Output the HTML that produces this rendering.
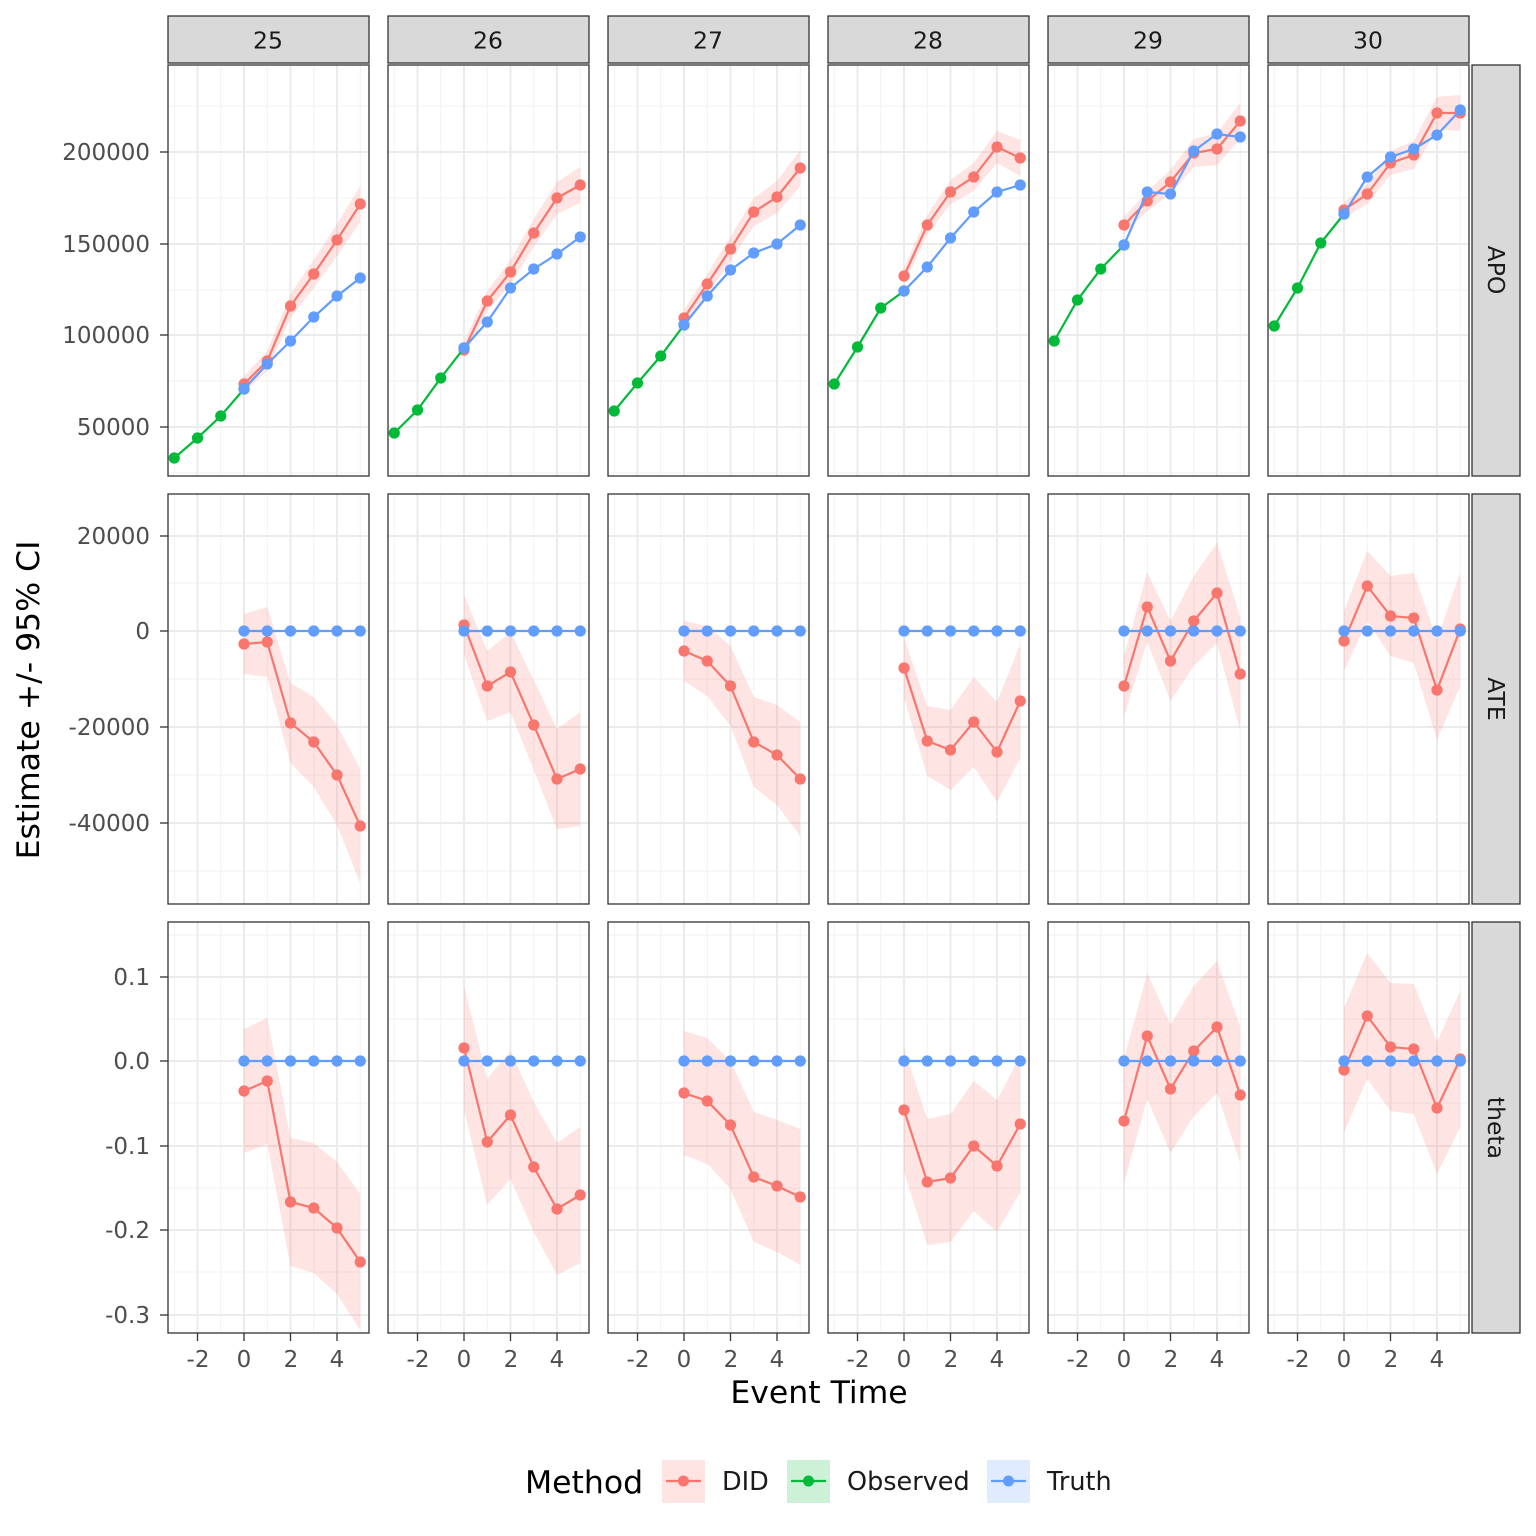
<!DOCTYPE html>
<html><head><meta charset="utf-8"><style>
html,body{margin:0;padding:0;background:#fff;}
svg{display:block;font-family:"DejaVu Sans","Liberation Sans",sans-serif;}
.t{font-size:23px;fill:#4d4d4d;}
.s{font-size:23.5px;fill:#1a1a1a;}
</style></head><body>
<svg id="c" width="1536" height="1536" viewBox="0 0 1536 1536" xmlns="http://www.w3.org/2000/svg">
<rect width="1536" height="1536" fill="#fff"/>
<g id="g"></g>
<g class="s" text-anchor="middle">
<text x="268" y="48.5">25</text><text x="488" y="48.5">26</text><text x="708" y="48.5">27</text>
<text x="928" y="48.5">28</text><text x="1148" y="48.5">29</text><text x="1368" y="48.5">30</text>
</g>
<g class="s" text-anchor="middle">
<text transform="translate(1488,270) rotate(90)">APO</text>
<text transform="translate(1488,699) rotate(90)">ATE</text>
<text transform="translate(1488,1128) rotate(90)">theta</text>
</g>
<g class="t" text-anchor="end">
<text x="150" y="160">200000</text><text x="150" y="252">150000</text><text x="150" y="343">100000</text><text x="150" y="435">50000</text>
<text x="150" y="544">20000</text><text x="150" y="639">0</text><text x="150" y="735">-20000</text><text x="150" y="831">-40000</text>
<text x="150" y="985">0.1</text><text x="150" y="1069">0.0</text><text x="150" y="1154">-0.1</text><text x="150" y="1238">-0.2</text><text x="150" y="1323">-0.3</text>
</g>
<g class="t" text-anchor="middle">
<text x="198" y="1367">-2</text><text x="244" y="1367">0</text><text x="291" y="1367">2</text><text x="337" y="1367">4</text>
<text x="418" y="1367">-2</text><text x="464" y="1367">0</text><text x="511" y="1367">2</text><text x="557" y="1367">4</text>
<text x="638" y="1367">-2</text><text x="684" y="1367">0</text><text x="731" y="1367">2</text><text x="777" y="1367">4</text>
<text x="858" y="1367">-2</text><text x="904" y="1367">0</text><text x="951" y="1367">2</text><text x="997" y="1367">4</text>
<text x="1078" y="1367">-2</text><text x="1124" y="1367">0</text><text x="1171" y="1367">2</text><text x="1217" y="1367">4</text>
<text x="1298" y="1367">-2</text><text x="1344" y="1367">0</text><text x="1391" y="1367">2</text><text x="1437" y="1367">4</text>
</g>
<text x="819" y="1403" text-anchor="middle" font-size="31.5" fill="#000">Event Time</text>
<text transform="translate(39,700) rotate(-90)" text-anchor="middle" font-size="31.5" fill="#000">Estimate +/- 95% CI</text>
<text x="525" y="1493" font-size="31.5" fill="#000">Method</text>
<rect x="662" y="1460" width="43" height="43" fill="#fde4e2"/>
<line x1="666" y1="1481" x2="701" y2="1481" stroke="#F8766D" stroke-width="2.2"/><circle cx="683.5" cy="1481" r="5.5" fill="#F8766D"/>
<text x="722" y="1490" font-size="25.5" fill="#1a1a1a">DID</text>
<rect x="787" y="1460" width="43" height="43" fill="#ccf1d7"/>
<line x1="791" y1="1481" x2="826" y2="1481" stroke="#00BA38" stroke-width="2.2"/><circle cx="808.5" cy="1481" r="5.5" fill="#00BA38"/>
<text x="847" y="1490" font-size="25.5" fill="#1a1a1a">Observed</text>
<rect x="987" y="1460" width="43" height="43" fill="#dfebff"/>
<line x1="991" y1="1481" x2="1026" y2="1481" stroke="#619CFF" stroke-width="2.2"/><circle cx="1008.5" cy="1481" r="5.5" fill="#619CFF"/>
<text x="1047" y="1490" font-size="25.5" fill="#1a1a1a">Truth</text>
</svg>
<script>
var NS="http://www.w3.org/2000/svg",g=document.getElementById("g");
function el(n,a){var e=document.createElementNS(NS,n);for(var k in a)e.setAttribute(k,a[k]);g.appendChild(e);return e;}
var rows=[[65,476],[494,904],[922,1333]];
var majY=[[152,244,335,427],[536,631,727,823],[977,1061,1146,1230,1315]];
var minY=[[106,198,290,381,473],[583,679,775,871],[935,1019,1103,1188,1272]];
function X(c,t){return 244+220*c+t*23.25;}
var obs=[[458,438,416,389],[433,410,378,348],[411,383,356,325],[384,347,308,291],[341,300,269,245],[326,288,243,214]];
var tru1=[[389,364,341,317,296,278],[348,322,288,269,254,237],[325,296,270,253,244,225],[291,267,238,212,192,185],[245,192,194,151,134,137],[214,177,157,149,135,110]];
var did=[
[[384,361,306,274,240,204],[350,301,272,233,198,185],[318,284,249,212,197,168],[276,225,192,177,147,158],[225,201,182,153,149,121],[210,194,163,155,113,113]],
[[644,642,723,742,775,826],[625,686,672,725,779,769],[651,661,686,742,755,779],[668,741,750,722,752,701],[686,607,661,621,593,674],[641,586,616,618,690,629]],
[[1091,1081,1202,1208,1228,1262],[1048,1142,1115,1167,1209,1195],[1093,1101,1125,1177,1186,1197],[1110,1182,1178,1146,1166,1124],[1121,1036,1089,1051,1027,1095],[1070,1016,1047,1049,1108,1059]]];
var hw=[[8,10,12,14,16,18],[30,35,40,45,50,57],[62,63,64,65,66,68]];
for(var r=0;r<3;r++){var y0=rows[r][0],y1=rows[r][1];
 for(var c=0;c<6;c++){var x0=168+220*c,x1=x0+201;
  el("rect",{x:x0,y:y0,width:201,height:y1-y0,fill:"#fff"});
  minY[r].forEach(function(y){if(y>y0&&y<y1)el("line",{x1:x0,x2:x1,y1:y,y2:y,stroke:"#f2f2f2","stroke-width":1});});
  [-3,-1,1,3,5].forEach(function(t){el("line",{x1:X(c,t),x2:X(c,t),y1:y0,y2:y1,stroke:"#f2f2f2","stroke-width":1});});
  majY[r].forEach(function(y){el("line",{x1:x0,x2:x1,y1:y,y2:y,stroke:"#ebebeb","stroke-width":2});});
  [-2,0,2,4].forEach(function(t){el("line",{x1:X(c,t),x2:X(c,t),y1:y0,y2:y1,stroke:"#ebebeb","stroke-width":2});});
  var d=did[r][c],up=[],dn=[];
  for(var t=0;t<6;t++){up.push(X(c,t)+","+(d[t]-hw[r][t]));dn.unshift(X(c,t)+","+(d[t]+hw[r][t]));}
  el("polygon",{points:up.concat(dn).join(" "),fill:"#F8766D","fill-opacity":0.2});
  function series(ts,ys,col){var p=[];for(var i=0;i<ys.length;i++)p.push(X(c,ts[i])+","+ys[i]);
   el("polyline",{points:p.join(" "),fill:"none",stroke:col,"stroke-width":2.2});
   for(var i=0;i<ys.length;i++)el("circle",{cx:X(c,ts[i]),cy:ys[i],r:5.6,fill:col});}
  var T=[0,1,2,3,4,5];
  series(T,d,"#F8766D");
  if(r==0)series([-3,-2,-1,0],obs[c],"#00BA38");
  series(T,r==0?tru1[c]:(r==1?[631,631,631,631,631,631]:[1061,1061,1061,1061,1061,1061]),"#619CFF");
  el("rect",{x:x0,y:y0,width:201,height:y1-y0,fill:"none",stroke:"#333","stroke-width":1.3});
  if(c==0)majY[r].forEach(function(y){el("line",{x1:x0-8,x2:x0,y1:y,y2:y,stroke:"#333","stroke-width":1.3});});
  if(r==2)[-2,0,2,4].forEach(function(t){el("line",{x1:X(c,t),x2:X(c,t),y1:y1,y2:y1+8,stroke:"#333","stroke-width":1.3});});
  if(r==0)el("rect",{x:x0,y:16,width:201,height:47,fill:"#d9d9d9",stroke:"#333","stroke-width":1.3});
 }
 el("rect",{x:1472,y:y0,width:48,height:y1-y0,fill:"#d9d9d9",stroke:"#333","stroke-width":1.3});
}
</script>
</body></html>
